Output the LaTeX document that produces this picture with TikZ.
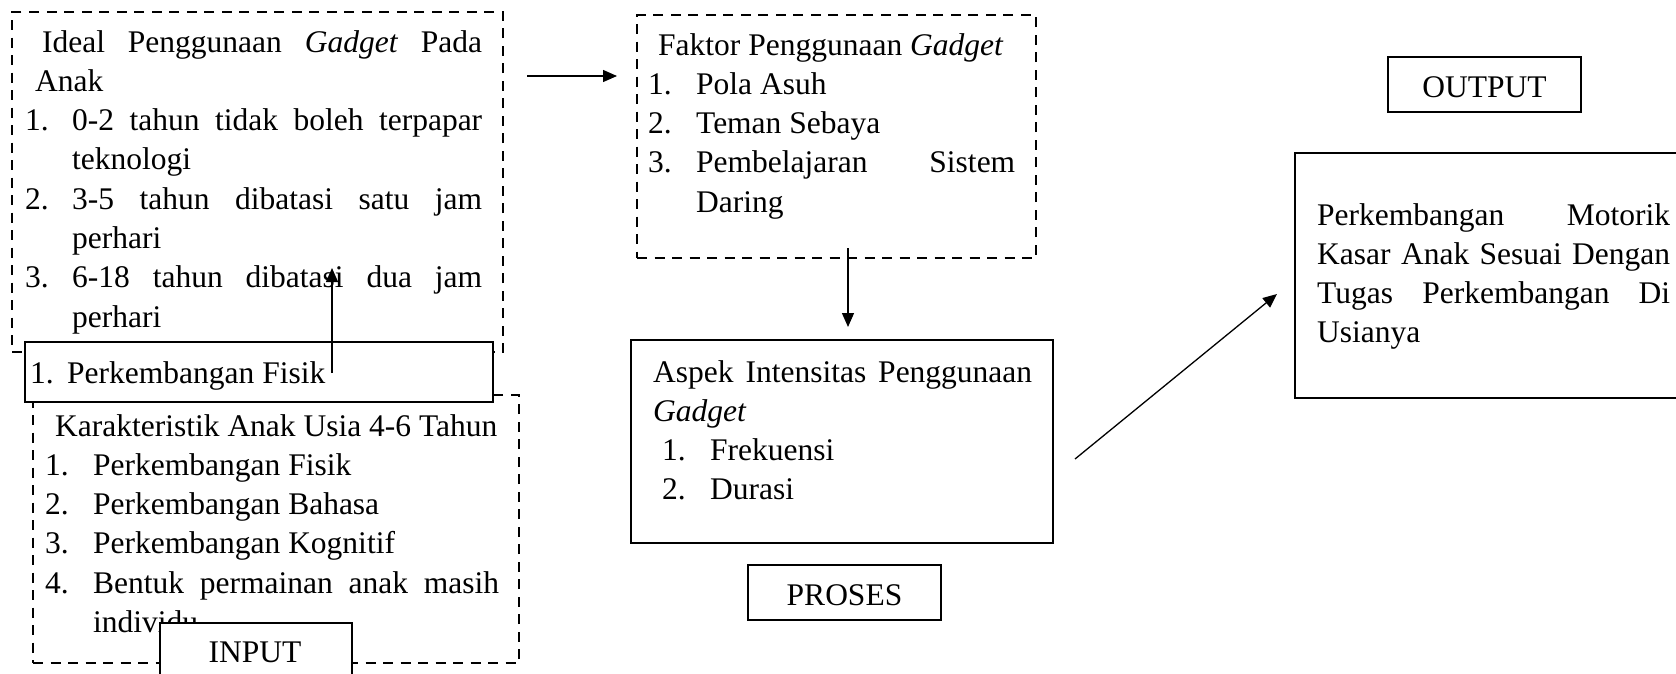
\documentclass[tikz,border=0pt]{standalone}
\usepackage{fontspec}
\setmainfont{Liberation Serif}
\usetikzlibrary{arrows.meta}
\newcommand\fsz{\fontsize{31.5}{39.3}\selectfont}
\newcommand\rsp{\spaceskip=0pt\xspaceskip=0pt\relax}
\tikzset{
  dbox/.style={draw, line width=2.2pt, dash pattern=on 10pt off 7.5pt, inner sep=0pt},
  sbox/.style={draw, line width=2.6pt, fill=white, inner sep=0pt},
  lbox/.style={draw, line width=1.3pt, fill=white, inner sep=0pt},
  txt/.style={inner sep=0pt, anchor=base west, align=left, font=\fsz},
  lbl/.style={inner sep=0pt, anchor=base, font=\fsz},
  arr/.style={line width=1.3pt, -{Triangle[length=14pt,width=12pt]}}
}
\begin{document}
\begin{tikzpicture}[x=1pt,y=-1pt]
\useasboundingbox (0,0) rectangle (1676,673);
\begin{scope}
\clip (0,0) rectangle (1676,673);
% left column
\node[dbox, minimum width=491pt, minimum height=340pt] (ideal) at (257.5,182) {};
\node[txt, text width=465pt] (idealtxt) at (25,52) {\rsp
\hspace*{17pt}\makebox[440pt][s]{Ideal Penggunaan \textit{Gadget} Pada}\\
\hspace*{10pt}Anak\\
\makebox[47pt][l]{1.}\makebox[410pt][s]{0-2 tahun tidak boleh terpapar}\\
\hspace*{47pt}teknologi\\
\makebox[47pt][l]{2.}\makebox[410pt][s]{3-5 tahun dibatasi satu jam}\\
\hspace*{47pt}perhari\\
\makebox[47pt][l]{3.}\makebox[410pt][s]{6-18 tahun dibatasi dua jam}\\
\hspace*{47pt}perhari};
\node[dbox, minimum width=486pt, minimum height=268pt] (karak) at (276,529) {};
\node[txt, text width=470pt] (karaktxt) at (45,436) {\rsp
\hspace*{10pt}Karakteristik Anak Usia 4-6 Tahun\\
\makebox[48pt][l]{1.}Perkembangan Fisik\\
\makebox[48pt][l]{2.}Perkembangan Bahasa\\
\makebox[48pt][l]{3.}Perkembangan Kognitif\\
\makebox[48pt][l]{4.}\makebox[406pt][s]{Bentuk permainan anak masih}\\
\hspace*{48pt}individu};
\node[sbox, minimum width=468pt, minimum height=60pt] (fisik) at (259,372) {};
\node[txt] (fisiktxt) at (30,383) {\rsp\makebox[37pt][l]{1.}Perkembangan Fisik};
\node[lbox, minimum width=192pt, minimum height=77pt] (input) at (256,661.5) {};
\node[lbl] (inputtxt) at (255,662) {INPUT};
% middle column
\node[dbox, minimum width=399pt, minimum height=243pt] (faktor) at (836.5,136.5) {};
\node[txt, text width=375pt] (faktortxt) at (648,55) {\rsp
\hspace*{10pt}Faktor Penggunaan \textit{Gadget}\\
\makebox[48pt][l]{1.}Pola Asuh\\
\makebox[48pt][l]{2.}Teman Sebaya\\
\makebox[48pt][l]{3.}\makebox[319pt][s]{Pembelajaran Sistem}\\
\hspace*{48pt}Daring};
\node[sbox, minimum width=422pt, minimum height=203pt] (aspek) at (842,441.5) {};
\node[txt, text width=390pt] (aspektxt) at (653,382) {\rsp
\makebox[379pt][s]{Aspek Intensitas Penggunaan}\\
\textit{Gadget}\\
\hspace*{9pt}\makebox[48pt][l]{1.}Frekuensi\\
\hspace*{9pt}\makebox[48pt][l]{2.}Durasi};
\node[lbox, minimum width=193pt, minimum height=55pt] (proses) at (844.5,592.5) {};
\node[lbl] (prosestxt) at (844.5,605) {PROSES};
% right column
\node[lbox, minimum width=193pt, minimum height=55pt] (output) at (1484.5,84.5) {};
\node[lbl] (outputtxt) at (1484.5,97) {OUTPUT};
\node[sbox, minimum width=425pt, minimum height=245pt] (hasil) at (1507.5,275.5) {};
\node[txt, text width=360pt] (hasiltxt) at (1317,225) {\rsp
\makebox[353pt][s]{Perkembangan Motorik}\\
\makebox[353pt][s]{Kasar Anak Sesuai Dengan}\\
\makebox[353pt][s]{Tugas Perkembangan Di}\\
Usianya};
% connectors
\coordinate (a1s) at (527,76);
\coordinate (a1e) at (617,76);
\coordinate (a2s) at (848,248);
\coordinate (a2e) at (848,327);
\coordinate (a3s) at (332,373);
\coordinate (a3e) at (332,268);
\coordinate (a4s) at (1075,459);
\coordinate (a4e) at (1277,294);
\draw[arr] (a1s) -- (a1e);
\draw[arr] (a2s) -- (a2e);
\draw[arr] (a3s) -- (a3e);
\draw[arr] (a4s) -- (a4e);
\end{scope}
\end{tikzpicture}
\end{document}
